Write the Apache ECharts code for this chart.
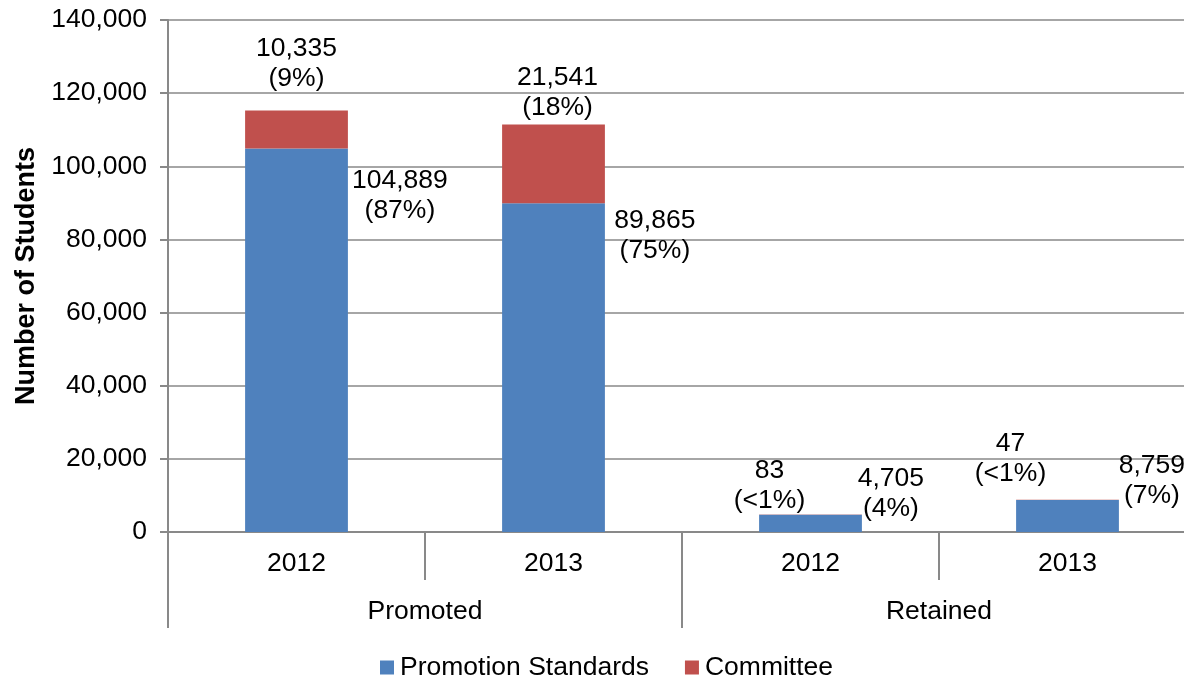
<!DOCTYPE html>
<html>
<head>
<meta charset="utf-8">
<script src="https://cdn.jsdelivr.net/npm/echarts@6/dist/echarts.min.js"></script>
<style>
html,body{margin:0;padding:0;background:#fff;overflow:hidden;width:1184px;height:679px;}
#chart{width:1196px;height:679px;}
</style>
</head>
<body>
<div id="chart"></div>
<script>
// ---- data ----
const categories = ['2012', '2013', '2012', '2013'];
const groups = ['Promoted', 'Retained'];
const standards = [104889, 89865, 4705, 8759];
const committee = [10335, 21541, 83, 47];
const standardsPct = ['87%', '75%', '4%', '7%'];
const committeePct = ['9%', '18%', '<1%', '<1%'];
const seriesNames = ['Promotion Standards', 'Committee'];
const yAxisTitle = 'Number of Students';

// ---- layout (label nudges, px) ----
const standardsLabelOffset = [[52, 47], [50, 32], [29, -21], [33, -19]];
const committeeLabelOffset = [[0, -47], [4, -32], [-41, -29], [-57, -41]];

const FONT = "'Liberation Sans', Arial, sans-serif";
const FS = 26.5;
const GRID_COLOR = '#898989';
const fmt = v => v.toLocaleString('en-US');

const chart = echarts.init(document.getElementById('chart'), null, {renderer: 'canvas'});

const labelBase = {
  show: true,
  color: '#000',
  fontFamily: FONT,
  fontSize: FS,
  lineHeight: 30,
  align: 'center',
  verticalAlign: 'middle'
};

chart.setOption({
  animation: false,
  backgroundColor: '#fff',
  textStyle: {fontFamily: FONT},
  grid: {left: 168, right: 0, top: 20, bottom: 147},
  legend: {
    data: seriesNames,
    top: 649,
    left: 375,
    icon: 'rect',
    itemWidth: 14,
    itemHeight: 14,
    itemGap: 36,
    textStyle: {fontFamily: FONT, fontSize: FS, color: '#000', padding: [0, 0, 0, 1]}
  },
  xAxis: [
    {
      type: 'category',
      data: categories,
      position: 'bottom',
      axisLine: {show: true, lineStyle: {color: GRID_COLOR, width: 2}},
      axisTick: {show: true, interval: 0, length: 48, lineStyle: {color: GRID_COLOR, width: 2}},
      axisLabel: {interval: 0, margin: 18, color: '#000', fontFamily: FONT, fontSize: FS}
    },
    {
      type: 'category',
      data: groups,
      position: 'bottom',
      offset: 48,
      axisLine: {show: false},
      axisTick: {show: true, interval: 0, length: 48, lineStyle: {color: GRID_COLOR, width: 2}},
      axisLabel: {interval: 0, margin: 18, color: '#000', fontFamily: FONT, fontSize: FS}
    }
  ],
  yAxis: {
    type: 'value',
    min: 0,
    max: 140000,
    interval: 20000,
    name: yAxisTitle,
    nameLocation: 'middle',
    nameGap: 126,
    nameTextStyle: {fontFamily: FONT, fontSize: 27, fontWeight: 'bold', color: '#000'},
    axisLine: {show: true, lineStyle: {color: GRID_COLOR, width: 2}},
    axisTick: {show: true, length: 8, lineStyle: {color: GRID_COLOR, width: 2}},
    axisLabel: {margin: 21, color: '#000', fontFamily: FONT, fontSize: FS, formatter: v => fmt(v)},
    splitLine: {show: true, lineStyle: {color: GRID_COLOR, width: 1.5}}
  },
  series: [
    {
      name: seriesNames[0],
      type: 'bar',
      stack: 'total',
      xAxisIndex: 0,
      barWidth: '40%',
      itemStyle: {color: '#4F81BD'},
      data: standards.map((v, i) => ({value: v, label: {offset: standardsLabelOffset[i]}})),
      label: Object.assign({}, labelBase, {
        position: ['100%', 0],
        formatter: p => fmt(p.value) + '\n(' + standardsPct[p.dataIndex] + ')'
      })
    },
    {
      name: seriesNames[1],
      type: 'bar',
      stack: 'total',
      xAxisIndex: 0,
      barWidth: '40%',
      itemStyle: {color: '#C0504D'},
      data: committee.map((v, i) => ({value: v, label: {offset: committeeLabelOffset[i]}})),
      label: Object.assign({}, labelBase, {
        position: ['50%', 0],
        formatter: p => fmt(p.value) + '\n(' + committeePct[p.dataIndex] + ')'
      })
    }
  ]
});
</script>
</body>
</html>
